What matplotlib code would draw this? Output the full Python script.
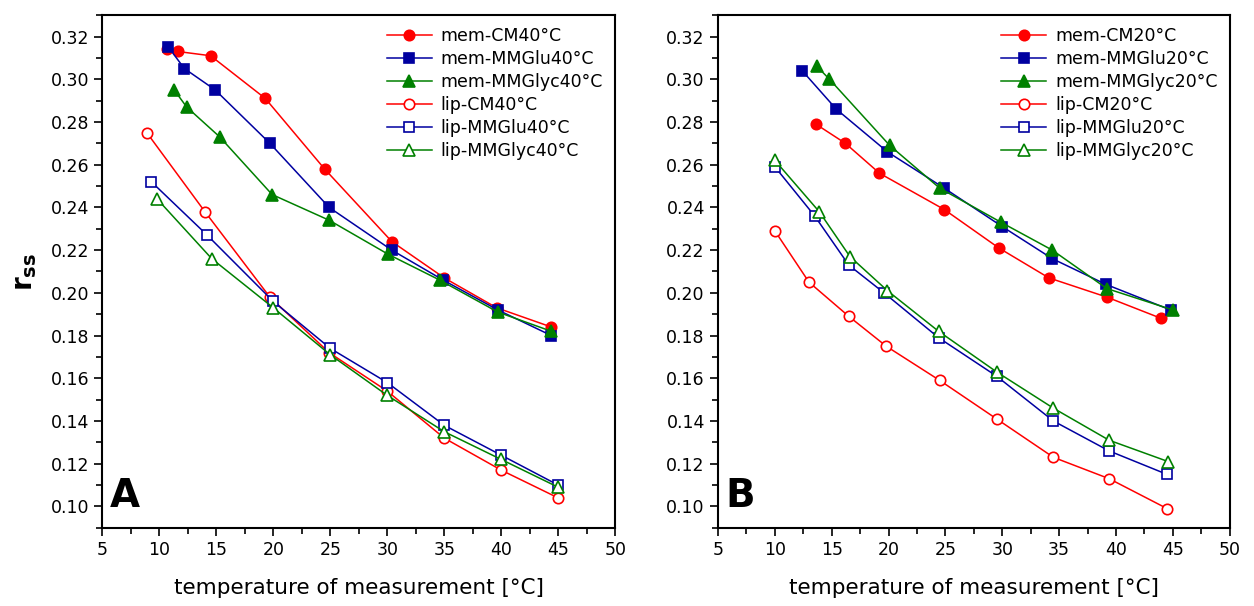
import matplotlib
matplotlib.use("Agg")
import matplotlib.pyplot as plt
from matplotlib.ticker import MultipleLocator, FormatStrFormatter

# panel A: growth at 40 C
a_mem_cm_t = [10.7, 11.6, 14.5, 19.3, 24.5, 30.4, 35.0, 39.6, 44.4]
a_mem_cm_r = [0.314, 0.313, 0.311, 0.291, 0.258, 0.224, 0.207, 0.193, 0.184]
a_mem_glu_t = [10.8, 12.2, 14.9, 19.7, 24.9, 30.4, 34.9, 39.7, 44.4]
a_mem_glu_r = [0.315, 0.305, 0.295, 0.270, 0.240, 0.220, 0.206, 0.192, 0.180]
a_mem_gly_t = [11.3, 12.4, 15.3, 19.9, 24.9, 30.1, 34.6, 39.7, 44.4]
a_mem_gly_r = [0.295, 0.287, 0.273, 0.246, 0.234, 0.218, 0.206, 0.191, 0.182]
a_lip_cm_t = [8.9, 14.0, 19.7, 24.9, 30.0, 35.0, 40.0, 45.0]
a_lip_cm_r = [0.275, 0.238, 0.198, 0.172, 0.154, 0.132, 0.117, 0.104]
a_lip_glu_t = [9.3, 14.2, 20.0, 25.0, 30.0, 35.0, 40.0, 45.0]
a_lip_glu_r = [0.252, 0.227, 0.196, 0.174, 0.158, 0.138, 0.124, 0.110]
a_lip_gly_t = [9.8, 14.6, 20.0, 25.0, 30.0, 35.0, 40.0, 45.0]
a_lip_gly_r = [0.244, 0.216, 0.193, 0.171, 0.152, 0.135, 0.122, 0.109]

# panel B: growth at 20 C
b_mem_cm_t = [13.6, 16.2, 19.2, 24.9, 29.7, 34.1, 39.2, 44.0]
b_mem_cm_r = [0.279, 0.270, 0.256, 0.239, 0.221, 0.207, 0.198, 0.188]
b_mem_glu_t = [12.4, 15.4, 19.9, 24.9, 30.0, 34.4, 39.1, 44.8]
b_mem_glu_r = [0.304, 0.286, 0.266, 0.249, 0.231, 0.216, 0.204, 0.192]
b_mem_gly_t = [13.7, 14.8, 20.1, 24.5, 29.9, 34.4, 39.2, 45.0]
b_mem_gly_r = [0.306, 0.300, 0.269, 0.249, 0.233, 0.220, 0.202, 0.192]
b_lip_cm_t = [10.0, 13.0, 16.5, 19.8, 24.5, 29.5, 34.5, 39.4, 44.5]
b_lip_cm_r = [0.229, 0.205, 0.189, 0.175, 0.159, 0.141, 0.123, 0.113, 0.099]
b_lip_glu_t = [10.0, 13.5, 16.5, 19.6, 24.4, 29.5, 34.5, 39.4, 44.5]
b_lip_glu_r = [0.259, 0.236, 0.213, 0.200, 0.179, 0.161, 0.140, 0.126, 0.115]
b_lip_gly_t = [10.0, 13.9, 16.6, 19.9, 24.4, 29.5, 34.5, 39.4, 44.6]
b_lip_gly_r = [0.262, 0.238, 0.217, 0.201, 0.182, 0.163, 0.146, 0.131, 0.121]

RED = "#ff0000"
BLUE = "#0000a0"
GREEN = "#008000"

fig = plt.figure(figsize=(12.54, 6.06), dpi=100)
axA = fig.add_axes([0.0816, 0.129, 0.409, 0.846])
axB = fig.add_axes([0.5726, 0.129, 0.408, 0.846])


def draw(ax, data, temp, letter):
    styles = [
        ("mem-CM", RED, "o", True),
        ("mem-MMGlu", BLUE, "s", True),
        ("mem-MMGlyc", GREEN, "^", True),
        ("lip-CM", RED, "o", False),
        ("lip-MMGlu", BLUE, "s", False),
        ("lip-MMGlyc", GREEN, "^", False),
    ]
    for (name, col, mk, filled), (t, r) in zip(styles, data):
        ms = 8.5 if mk == "^" else 7.5
        if mk == "s":
            ms = 6.5
        ax.plot(t, r, color=col, lw=1.1, marker=mk, ms=ms,
                mfc=col if filled else "white", mec=col, mew=1.2,
                label=f"{name}{temp}°C")
    ax.set_xlim(5, 50)
    ax.set_ylim(0.09, 0.33)
    ax.xaxis.set_major_locator(MultipleLocator(5))
    ax.xaxis.set_minor_locator(MultipleLocator(2.5))
    ax.yaxis.set_major_locator(MultipleLocator(0.02))
    ax.yaxis.set_minor_locator(MultipleLocator(0.01))
    ax.yaxis.set_major_formatter(FormatStrFormatter("%.2f"))
    ax.tick_params(which="both", direction="out", labelsize=12.5, width=1.2)
    ax.tick_params(which="major", length=6)
    ax.tick_params(which="minor", length=4)
    for s in ax.spines.values():
        s.set_linewidth(1.5)
    ax.set_xlabel("temperature of measurement [°C]", fontsize=15.5, labelpad=14)
    ax.text(0.015, 0.025, letter, transform=ax.transAxes, fontsize=28,
            fontweight="bold", ha="left", va="bottom")
    ax.legend(loc="upper right", frameon=False, fontsize=12.5, handlelength=2.6,
              labelspacing=0.28, borderaxespad=0.3, handletextpad=0.5)


draw(axA, [(a_mem_cm_t, a_mem_cm_r), (a_mem_glu_t, a_mem_glu_r),
           (a_mem_gly_t, a_mem_gly_r), (a_lip_cm_t, a_lip_cm_r),
           (a_lip_glu_t, a_lip_glu_r), (a_lip_gly_t, a_lip_gly_r)], 40, "A")
draw(axB, [(b_mem_cm_t, b_mem_cm_r), (b_mem_glu_t, b_mem_glu_r),
           (b_mem_gly_t, b_mem_gly_r), (b_lip_cm_t, b_lip_cm_r),
           (b_lip_glu_t, b_lip_glu_r), (b_lip_gly_t, b_lip_gly_r)], 20, "B")

axA.set_ylabel(r"$\mathbf{r_{ss}}$", fontsize=20, labelpad=8)

fig.savefig("out.png", dpi=100)
